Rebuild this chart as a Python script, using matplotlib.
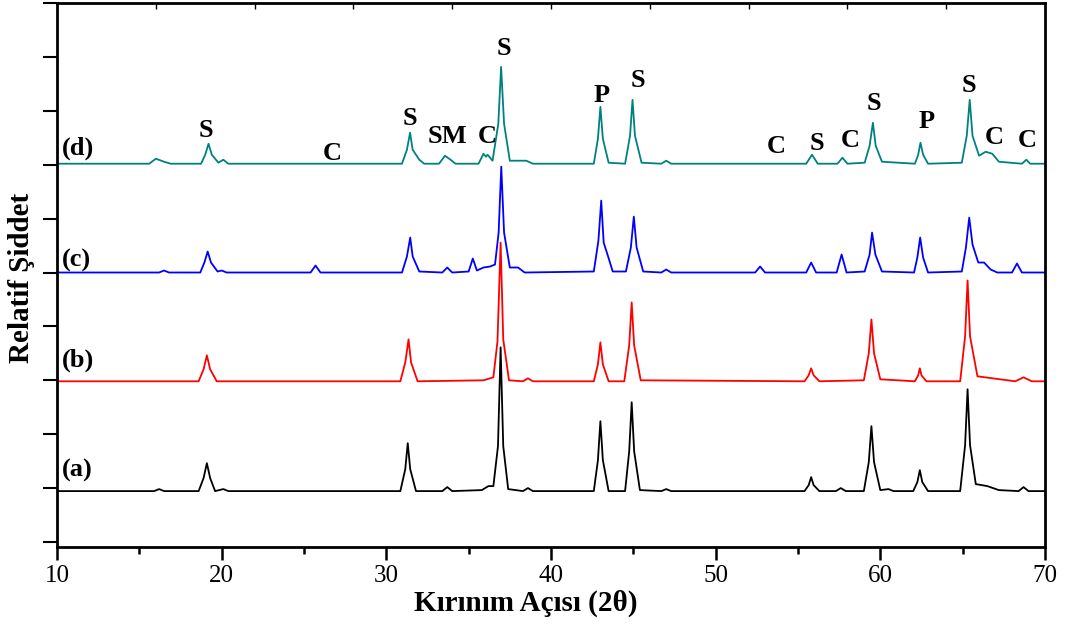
import matplotlib.pyplot as plt

# XRD patterns: 2-theta positions and heights above each baseline (a.u.)
a_x = [10, 15.9, 16.2, 16.5, 18.6, 18.9, 19.1, 19.3, 19.6, 20.1, 20.4,
       30.85, 31.15, 31.3, 31.45, 31.8, 33.4, 33.7, 34.0,
       35.8, 36.2, 36.5, 36.78, 36.94, 37.1, 37.4, 38.3, 38.6, 38.9,
       42.6, 42.85, 43.0, 43.15, 43.5, 44.5, 44.75, 44.9, 45.05, 45.4, 46.7, 47.0, 47.3,
       55.4, 55.65, 55.8, 55.95, 56.3, 57.3, 57.6, 57.9, 59.0, 59.3, 59.46, 59.62, 60.0, 60.5, 60.8,
       62.0, 62.25, 62.4, 62.55, 62.9, 64.85, 65.15, 65.3, 65.45, 65.8, 66.5, 67.2,
       68.4, 68.7, 69.0, 70]
a_y = [0, 0, 2, 0, 0, 13, 28, 13, 0, 2, 0,
       0, 22, 48, 22, 0, 0, 4, 0,
       1, 5, 5, 45, 144, 45, 2, 0, 3, 0,
       0, 31, 70, 31, 0, 0, 40, 89, 40, 1, 0, 2, 0,
       0, 6, 14, 6, 0, 0, 3, 0, 0, 29, 65, 29, 1, 2, 0,
       0, 9, 21, 9, 0, 0, 46, 102, 46, 7, 5, 1,
       0, 4, 0, 0]

b_x = [10, 18.6, 18.9, 19.1, 19.3, 19.7, 30.85, 31.15, 31.35, 31.5, 31.9,
       35.9, 36.3, 36.5, 36.75, 36.94, 37.1, 37.45, 38.3, 38.6, 38.9,
       42.6, 42.85, 43.0, 43.15, 43.5, 44.45, 44.75, 44.9, 45.05, 45.45,
       55.4, 55.65, 55.8, 55.95, 56.3, 59.0, 59.3, 59.46, 59.62, 60.0,
       62.1, 62.3, 62.4, 62.5, 62.8, 64.85, 65.15, 65.3, 65.45, 65.9,
       68.2, 68.7, 69.2, 70]
b_y = [0, 0, 12, 26, 12, 0, 0, 19, 42, 19, 0,
       1, 3, 4, 40, 139, 42, 1, 0, 3, 0,
       0, 17, 39, 17, 0, 0, 36, 79, 36, 1,
       0, 6, 13, 6, 0, 1, 28, 62, 28, 2,
       0, 6, 13, 6, 0, 0, 45, 101, 45, 5,
       0, 4, 0, 0]

c_x = [10, 16.2, 16.5, 16.8, 18.7, 18.95, 19.15, 19.35, 19.75, 20.0, 20.3,
       25.4, 25.7, 26.0, 30.95, 31.25, 31.45, 31.6, 32.0, 33.4, 33.7, 34.0,
       35.0, 35.25, 35.5, 35.9, 36.3, 36.6, 36.82, 36.98, 37.15, 37.5, 38.0, 38.4,
       42.6, 42.88, 43.05, 43.2, 43.45, 43.75, 44.55, 44.85, 45.03, 45.2, 45.6,
       46.7, 47.0, 47.3, 52.4, 52.7, 53.0, 55.5, 55.8, 56.1, 57.35, 57.65, 57.95,
       59.05, 59.35, 59.5, 59.7, 60.1, 62.05, 62.25, 62.42, 62.6, 62.9,
       64.95, 65.2, 65.4, 65.6, 65.95, 66.3, 66.7, 67.1, 68.0, 68.3, 68.6, 70]
c_y = [0, 0, 2, 0, 0, 10, 21, 10, 1, 2, 0,
       0, 7, 0, 0, 16, 35, 16, 1, 0, 5, 0,
       1, 14, 2, 5, 6, 8, 40, 106, 40, 5, 5, 0,
       1, 32, 72, 30, 17, 1, 1, 25, 56, 25, 1,
       0, 3, 0, 0, 6, 0, 0, 10, 0, 0, 18, 0,
       1, 18, 40, 18, 1, 0, 15, 35, 15, 0,
       1, 25, 55, 28, 10, 10, 3, 0, 0, 9, 0, 0]

d_x = [10, 15.6, 16.0, 16.5, 16.9, 18.75, 19.0, 19.2, 19.4, 19.8, 20.1, 20.4,
       30.95, 31.25, 31.44, 31.6, 32.0, 32.3, 33.2, 33.56, 33.9, 34.2,
       35.6, 35.9, 36.05, 36.15, 36.45, 36.8, 36.97, 37.15, 37.5, 38.5, 38.9,
       42.6, 42.85, 43.0, 43.15, 43.5, 44.5, 44.8, 44.95, 45.1, 45.5, 46.7, 47.0, 47.3,
       55.5, 55.85, 56.2, 57.4, 57.7, 58.0, 59.05, 59.35, 59.55, 59.72, 60.1,
       62.1, 62.3, 62.44, 62.6, 62.9, 64.95, 65.25, 65.43, 65.6, 66.0,
       66.4, 66.8, 67.2, 68.6, 68.87, 69.1, 70]
d_y = [0, 0, 5, 2, 0, 0, 9, 20, 9, 1, 4, 0,
       0, 14, 31, 14, 4, 0, 0, 8, 4, 0,
       0, 10, 7, 9, 3, 40, 97, 40, 3, 3, 0,
       0, 25, 57, 25, 1, 0, 28, 64, 28, 1, 0, 3, 0,
       0, 9, 0, 0, 6, 0, 1, 18, 41, 18, 2,
       0, 9, 21, 9, 0, 1, 28, 64, 28, 8,
       12, 10, 2, 0, 4, 0, 0]

offsets = [51, 161, 270, 379]
colors = ['black', '#ff0000', '#0000ff', '#008080']
sample_labels = ['(a)', '(b)', '(c)', '(d)']
label_y = [72, 182, 282, 394]

# phase letters above pattern (d)
phase_text = ['S', 'C', 'S', 'SM', 'C', 'S', 'P', 'S', 'C', 'S', 'C', 'S', 'P', 'S', 'C', 'C']
phase_x = [19.05, 26.7, 31.43, 33.7, 36.1, 37.14, 43.1, 45.25, 53.7, 56.15, 58.15, 59.6, 62.8, 65.37, 66.9, 68.9]
phase_y = [412, 389, 424, 406, 406, 494, 447, 462, 396, 399, 402, 439, 421, 457, 405, 402]

plt.rcParams['font.family'] = 'Liberation Serif'

fig = plt.figure(figsize=(10.7, 6.28), dpi=100)
ax = fig.add_axes([0.0533, 0.129, 0.9233, 0.8662])

for xs, ys, off, col in zip([a_x, b_x, c_x, d_x], [a_y, b_y, c_y, d_y], offsets, colors):
    ax.plot(xs, [v + off for v in ys], color=col, linewidth=1.3)

for lab, ly in zip(sample_labels, label_y):
    ax.text(10.3, ly, lab, fontsize=19, fontweight='bold', va='center', ha='left')

for t, px, py in zip(phase_text, phase_x, phase_y):
    ax.text(px, py, t, fontsize=19, fontweight='bold', va='center', ha='center')

ax.set_xlim(10, 70)
ax.set_ylim(-5, 539)
ax.set_xticks(range(10, 71, 10))
ax.set_xticks(range(15, 70, 10), minor=True)
ax.set_yticks(range(0, 541, 54))
ax.set_yticklabels([])

for sp in ax.spines.values():
    sp.set_linewidth(2)

ax.tick_params(axis='x', which='major', direction='out', length=9, width=1.8, labelsize=18, pad=4)
ax.tick_params(axis='x', which='minor', direction='out', length=5, width=1.8)
ax.tick_params(axis='y', which='major', direction='out', length=10, width=1.5)

top = ax.secondary_xaxis('top')
top.set_xticks(range(16, 70, 6))
top.set_xticklabels([])
top.tick_params(direction='in', length=4, width=1)

fig.text(526 / 1070, 1 - 603 / 628, 'Kırınım Açısı (2θ)', fontsize=21, fontweight='bold',
         ha='center', va='center')
fig.text(22 / 1070, 1 - 278 / 628, 'Relatif Şiddet', fontsize=21, fontweight='bold',
         ha='center', va='center', rotation=90)

plt.savefig('out.png', dpi=100)
